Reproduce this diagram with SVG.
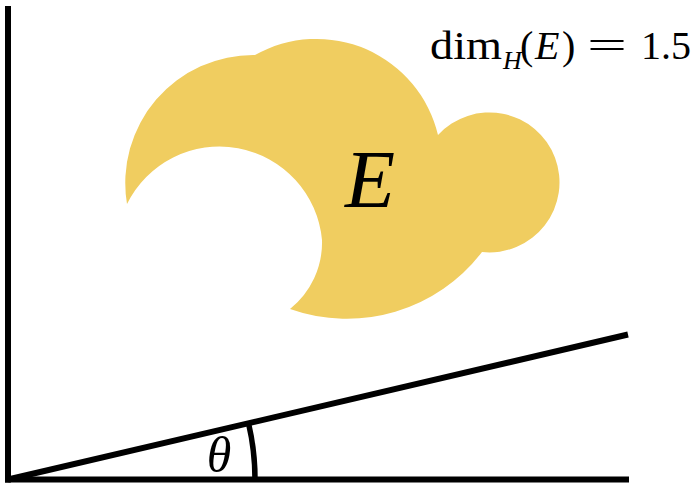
<svg xmlns="http://www.w3.org/2000/svg" width="692" height="483" viewBox="0 0 692 483">
  <style>
    .ax { stroke: #000; stroke-width: 6; fill: none; stroke-linecap: butt; }
    .arc { stroke: #000; stroke-width: 5.5; fill: none; }
    .blob { fill: #F0CD60; }
    .math { font-family: "Liberation Serif", "Times New Roman", serif; fill: #000; }
    .it { font-style: italic; }
  </style>
  <rect width="692" height="483" fill="#fff"/>
  <g id="set-E">
    <path class="blob" d="M 127 204 A 128 128 0 0 1 255 55 A 125 125 0 0 1 438 135 A 70 70 0 1 1 482 252 A 170 170 0 0 1 290 309 A 85 85 0 0 0 322 240 A 103 103 0 0 0 127 204 Z"/>
    <text class="math it" x="370" y="207" font-size="82" text-anchor="middle">E</text>
  </g>
  <g id="connectors">
    <line class="ax" x1="8" y1="6" x2="8" y2="482.5"/>
    <line class="ax" x1="5" y1="479.5" x2="629" y2="479.5"/>
    <line class="ax" x1="8" y1="479.5" x2="628" y2="334.5"/>
    <path class="arc" d="M 255 479.5 A 247 247 0 0 0 248.5 423.1"/>
  </g>
  <g id="angle-label">
    <text class="math it" x="219" y="472" font-size="50" text-anchor="middle">θ</text>
  </g>
  <g id="dimension-label">
    <text class="math" font-size="40">
      <tspan x="430" y="59" textLength="72" lengthAdjust="spacingAndGlyphs">dim</tspan>
      <tspan class="it" x="503" y="69" font-size="26">H</tspan>
      <tspan x="520" y="59">(</tspan>
      <tspan class="it" x="535" y="59">E</tspan>
      <tspan x="562" y="59">)</tspan>
      <tspan x="587" y="59" textLength="40" lengthAdjust="spacingAndGlyphs">=</tspan>
      <tspan x="641" y="59">1.5</tspan>
    </text>
  </g>
</svg>
